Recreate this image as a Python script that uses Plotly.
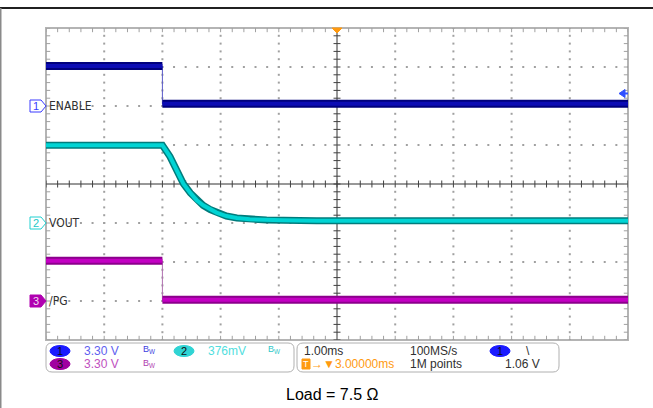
import numpy as np
import plotly.graph_objects as go

# time axis in ms, trigger at 0, 1.00 ms/div, 10 divisions on screen
t_start, t_end = -2.0, 8.0
t_edge = 0.0

# CH1 ENABLE (3.30 V/div), ground at division 6
ch1_scale, ch1_gnd = 3.30, 6.0
ch1_high, ch1_low = 3.38, 0.18

# CH2 VOUT (376 mV/div), ground at division 3
ch2_scale, ch2_gnd = 0.376, 3.0
vout_t = [-2.0, 0.0, 0.13, 0.25, 0.36, 0.48, 0.59, 0.70, 0.82, 0.93,
          1.10, 1.28, 1.50, 1.79, 2.08, 2.65, 8.0]
vout_v = [0.75, 0.75, 0.64, 0.51, 0.38, 0.29, 0.22, 0.17, 0.13, 0.10,
          0.067, 0.048, 0.036, 0.029, 0.026, 0.022, 0.022]

# CH3 /PG (3.30 V/div), ground at division 1
ch3_scale, ch3_gnd = 3.30, 1.0
ch3_high, ch3_low = 3.40, 0.10

trig_level = 1.06  # V on CH1, falling edge

# plot area in pixels
L, R, T, B = 46, 628, 28, 340
W, H = 653, 408


def px(x):
    return (x - L) / (R - L)


def py(y):
    return (B - y) / (B - T)


def div(vals, scale, gnd):
    return [None if v is None else gnd + v / scale for v in vals]


def path(points):
    return "M" + " L".join(f"{px(x)},{py(y)}" for x, y in points) + " Z"


fig = go.Figure()

# dotted graticule
dots_x, dots_y = [], []
fine = np.arange(0, 8.01, 0.2)
for gx in [1, 2, 3, 4, 6, 7, 8, 9]:
    dots_x += [gx] * len(fine)
    dots_y += list(fine)
fine_x = np.arange(0, 10.01, 0.2)
for gy in [1, 2, 3, 5, 6, 7]:
    dots_x += list(fine_x)
    dots_y += [gy] * len(fine_x)
fig.add_trace(go.Scatter(x=dots_x, y=dots_y, mode="markers",
                         marker=dict(symbol="square", size=2, color="#a0a0a0"),
                         hoverinfo="skip", showlegend=False))

# border ticks
edge_x = list(fine_x) * 2
edge_y = [8] * len(fine_x) + [0] * len(fine_x)
fig.add_trace(go.Scatter(x=edge_x, y=edge_y, mode="markers",
                         marker=dict(symbol="line-ns", size=6,
                                     line=dict(width=1, color="#a0a0a0")),
                         hoverinfo="skip", showlegend=False))
fig.add_trace(go.Scatter(x=[0] * len(fine) + [10] * len(fine), y=list(fine) * 2,
                         mode="markers",
                         marker=dict(symbol="line-ew", size=6,
                                     line=dict(width=1, color="#a0a0a0")),
                         hoverinfo="skip", showlegend=False))

# centre cross ticks
fig.add_trace(go.Scatter(x=list(fine_x), y=[4] * len(fine_x), mode="markers",
                         marker=dict(symbol="line-ns", size=5,
                                     line=dict(width=1, color="#404040")),
                         hoverinfo="skip", showlegend=False))
fig.add_trace(go.Scatter(x=[5] * len(fine), y=list(fine), mode="markers",
                         marker=dict(symbol="line-ew", size=5,
                                     line=dict(width=1, color="#404040")),
                         hoverinfo="skip", showlegend=False))


def to_x(t):
    return [None if v is None else (v - t_start) for v in t]


def add_band(t, v, scale, gnd, dark, bright, wide=8, core=4):
    xs = to_x(t)
    ys = div(v, scale, gnd)
    fig.add_trace(go.Scatter(x=xs, y=ys, mode="lines", line=dict(color=dark, width=wide),
                             hoverinfo="skip", showlegend=False))
    fig.add_trace(go.Scatter(x=xs, y=ys, mode="lines", line=dict(color=bright, width=core),
                             hoverinfo="skip", showlegend=False))


def add_step(high, low, scale, gnd, dark, bright, edge):
    xs = to_x([t_edge, t_edge])
    fig.add_trace(go.Scatter(x=xs, y=div([high, low], scale, gnd), mode="lines",
                             line=dict(color=edge, width=1),
                             hoverinfo="skip", showlegend=False))
    add_band([t_start, t_edge, None, t_edge, t_end], [high, high, None, low, low],
             scale, gnd, dark, bright)


add_step(ch3_high, ch3_low, ch3_scale, ch3_gnd, "#8c008c", "#c400c4", "#b070b0")
add_band(vout_t, vout_v, ch2_scale, ch2_gnd, "#007c7c", "#00d4d4", wide=7, core=4)
add_step(ch1_high, ch1_low, ch1_scale, ch1_gnd, "#00007c", "#0c0cb4", "#5a5ac8")

shapes = []
# outer frame
shapes.append(dict(type="line", xref="paper", yref="paper", x0=px(0), x1=px(W),
                   y0=py(8), y1=py(8), line=dict(color="#202020", width=2)))
shapes.append(dict(type="line", xref="paper", yref="paper", x0=px(0.5), x1=px(0.5),
                   y0=py(8), y1=py(H), line=dict(color="#8a8a8a", width=2)))
# graticule border and centre cross
shapes.append(dict(type="rect", xref="paper", yref="paper", x0=0, x1=1, y0=0, y1=1,
                   line=dict(color="#b4b4b4", width=2), layer="below"))
shapes.append(dict(type="line", xref="x", yref="y", x0=0, x1=10, y0=4, y1=4,
                   line=dict(color="#303030", width=1), layer="below"))
shapes.append(dict(type="line", xref="x", yref="y", x0=5, x1=5, y0=0, y1=8,
                   line=dict(color="#303030", width=1), layer="below"))
# trigger markers
shapes.append(dict(type="path", xref="paper", yref="paper",
                   path=path([(332, 28), (342, 28), (337, 33)]),
                   fillcolor="#ff9a10", line=dict(color="#ff9a10", width=1)))
trig_y = B - (ch1_gnd + trig_level / ch1_scale) * (B - T) / 8
shapes.append(dict(type="path", xref="paper", yref="paper",
                   path=path([(619, trig_y), (625, trig_y - 4), (625, trig_y + 4)]),
                   fillcolor="#3050ff", line=dict(color="#3050ff", width=1)))
shapes.append(dict(type="line", xref="paper", yref="paper", x0=px(624), x1=px(628),
                   y0=py(trig_y), y1=py(trig_y), line=dict(color="#3050ff", width=2)))

annotations = []
narrow = "Liberation Sans Narrow, DejaVu Sans Condensed, Arial Narrow, sans-serif"
sans = "Liberation Sans, Arial, sans-serif"


def text(x, y, s, color, size=11, family=sans, anchor="left"):
    annotations.append(dict(x=px(x), y=py(y), xref="paper", yref="paper", text=s,
                            showarrow=False, xanchor=anchor, yanchor="middle",
                            font=dict(family=family, size=size, color=color)))


# channel ground markers and labels
channels = [("1", ch1_gnd, "ENABLE", "#3a3aff", "white", "#3a3aff"),
            ("2", ch2_gnd, "VOUT", "#20d0d0", "white", "#20c8c8"),
            ("3", ch3_gnd, "/PG", "#b000b0", "#b000b0", "#f2dcf2")]
for num, gnd, label, edge, fill, txt in channels:
    yc = B - gnd * (B - T) / 8
    shapes.append(dict(type="path", xref="paper", yref="paper",
                       path=path([(30, yc - 6), (41, yc - 6), (46, yc), (41, yc + 6), (30, yc + 6)]),
                       fillcolor=fill, line=dict(color=edge, width=1)))
    text(35.5, yc, num, txt, size=11, anchor="center")
    text(47, yc, label, "#303030", size=12, family=narrow)

# status bar boxes
for x0, x1 in [(46, 294), (297, 559)]:
    r = 6
    y0, y1 = 343, 372
    p = (f"M{px(x0 + r)},{py(y0)} L{px(x1 - r)},{py(y0)} "
         f"Q{px(x1)},{py(y0)} {px(x1)},{py(y0 + r)} L{px(x1)},{py(y1 - r)} "
         f"Q{px(x1)},{py(y1)} {px(x1 - r)},{py(y1)} L{px(x0 + r)},{py(y1)} "
         f"Q{px(x0)},{py(y1)} {px(x0)},{py(y1 - r)} L{px(x0)},{py(y0 + r)} "
         f"Q{px(x0)},{py(y0)} {px(x0 + r)},{py(y0)} Z")
    shapes.append(dict(type="path", xref="paper", yref="paper", path=p,
                       fillcolor="white", line=dict(color="#b0b0b0", width=1)))

ovals = [(60, 351, "#1a1aff", "1"), (60, 364, "#a000a0", "3"),
         (184, 351, "#30d4d4", "2"), (500, 351, "#1a1aff", "1")]
for xc, yc, col, num in ovals:
    shapes.append(dict(type="circle", xref="paper", yref="paper",
                       x0=px(xc - 10), x1=px(xc + 10), y0=py(yc + 5.5), y1=py(yc - 5.5),
                       fillcolor=col, line=dict(color=col, width=1)))
    text(xc, yc, num, "#101010", size=11, anchor="center")

text(82, 351, "3.30 V", "#6060f0", size=12)
text(82, 364, "3.30 V", "#c050c0", size=12)
text(206, 351, "376mV", "#50dede", size=12)
text(141, 350, "B<sub>W</sub>", "#4040e0", size=9)
text(141, 363, "B<sub>W</sub>", "#b040b0", size=9)
text(266, 350, "B<sub>W</sub>", "#30c8c8", size=9)

text(302, 351, "1.00ms", "#303030", size=12)
text(408, 351, "100MS/s", "#303030", size=12)
text(524, 351, "\\", "#303030", size=12)
shapes.append(dict(type="rect", xref="paper", yref="paper", x0=px(302), x1=px(310),
                   y0=py(369), y1=py(359), fillcolor="#ff9a10",
                   line=dict(color="#ff9a10", width=1)))
text(306, 364, "T", "white", size=9, anchor="center")
text(309, 364, "→▼3.00000ms", "#ff9a10", size=12)
text(408, 364, "1M points", "#303030", size=12)
text(503, 364, "1.06 V", "#303030", size=12)

# caption
text(332, 394, "Load = 7.5 Ω", "#000000", size=16, anchor="center")

fig.update_layout(
    width=W, height=H,
    margin=dict(l=L, r=W - R, t=T, b=H - B),
    paper_bgcolor="white", plot_bgcolor="white",
    xaxis=dict(range=[0, 10], visible=False, fixedrange=True),
    yaxis=dict(range=[0, 8], visible=False, fixedrange=True),
    shapes=shapes, annotations=annotations, showlegend=False,
)

fig.write_html("out.html", config={"displayModeBar": False},
               post_script="document.body.style.margin='0';document.body.style.overflow='hidden';")
